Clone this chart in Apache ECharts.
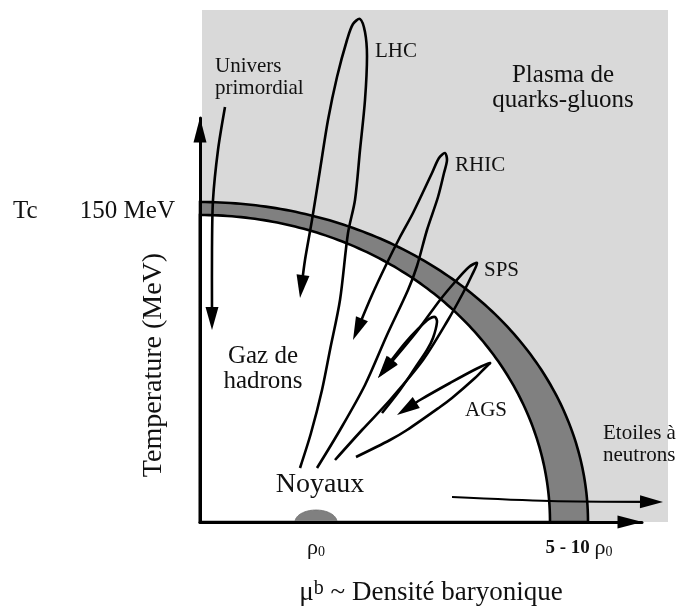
<!DOCTYPE html>
<html><head><meta charset="utf-8">
<script src="https://cdn.jsdelivr.net/npm/echarts@6/dist/echarts.min.js"></script>
<style>html,body{margin:0;padding:0;background:#fff}#c{width:688px;height:611px}</style>
</head><body><div id="c"></div>
<script>
// ---------------- data (schematic units: x = baryon density, y = temperature) ----------------
const axisMax = [442, 404];            // ends of the two axes (arrow tips)
const plasmaExtent = [468, 512];       // shaded quark-gluon plasma region
const crossoverOuter = [388, 320];     // outer radii of the transition band
const crossoverInner = [350, 307];     // inner radii of the transition band
const nucleusAt = [116, 0];            // ρ0 bump on the density axis
const nucleusRadii = [21, 12];

const universPath = [[25,415],[18,372],[13,322],[12,272],[12,192]];
const lhcPath  = [[100,54],[111,89],[122,132],[130,172],[140,222],[148,289],[155,322],[160,372],[165,422],[167,466],[165,490],[160,503],[153,498],[147,482],[137,445],[128,402],[120,352],[112,302],[105,262],[100,224]];
const rhicPath = [[117,54],[140,92],[165,137],[187,187],[208,232],[217,256],[227,292],[238,325],[244,349],[247,362],[245,369],[239,364],[232,349],[213,309],[200,285],[186,257],[172,227],[153,182]];
const spsPath  = [[135,62],[162,92],[190,122],[223,162],[248,202],[263,229],[272,247],[277,259],[269,255],[255,240],[240,222],[218,192],[200,170],[178,144]];
const spsInnerPath = [[182,109],[200,132],[215,154],[227,172],[233,184],[237,200],[235,205],[229,203],[219,194],[205,179],[190,160],[178,144]];
const agsPath  = [[156,65],[190,82],[207,92],[240,115],[252,124],[275,144],[285,154],[290,159],[276,153],[250,139],[220,122],[197,107]];
const neutronStarPath = [[252,25],[350,21],[463,20]];

const xTicks = [{value:116, label:'{r|ρ}{s|0}'}, {value:379, label:'{b|5 - 10 }{r|ρ}{s|0}'}];
const yTicks = [{value:311, label:'150 MeV', name:'Tc'}];

const experimentLabels = [
  {text:'LHC',  x:175, y:471},
  {text:'RHIC', x:255, y:357},
  {text:'SPS',  x:284, y:252},
  {text:'AGS',  x:265, y:112}
];
const regionLabels = [
  {text:'Plasma de\nquarks-gluons', x:363, y:434},
  {text:'Gaz de\nhadrons', x:63, y:153}
];
const sideLabels = [
  {text:'Univers\nprimordial', x:15, y:445},
  {text:'Etoiles à\nneutrons', x:403, y:78}
];
const nucleiLabel = [{text:'Noyaux', x:120, y:37}];

// ---------------- rendering ----------------
const FONT = '"Liberation Serif", "Times New Roman", serif';
const INK = '#111';

function ellipsePts(api, c, r, a0, a1, n, withCenter) {
  const pts = withCenter ? [api.coord(c)] : [];
  for (let i = 0; i <= n; i++) {
    const a = a0 + (a1 - a0) * i / n;
    pts.push(api.coord([c[0] + r[0] * Math.cos(a), c[1] + r[1] * Math.sin(a)]));
  }
  return pts;
}

const background = {
  type: 'custom', coordinateSystem: 'cartesian2d', silent: true, z: 1, clip: false,
  data: [[plasmaExtent[0], plasmaExtent[1]]],
  renderItem(params, api) {
    const tl = api.coord([0, plasmaExtent[1]]);
    const br = api.coord([plasmaExtent[0], 0]);
    return { type: 'group', children: [
      { type: 'rect', shape: { x: tl[0] + 2, y: tl[1], width: br[0] - tl[0] - 2, height: br[1] - tl[1] }, style: { fill: '#d9d9d9' } },
      { type: 'polygon', shape: { points: ellipsePts(api, [0,0], crossoverOuter, 0, Math.PI/2, 120, true) }, style: { fill: '#808080', stroke: '#000', lineWidth: 2.6 } },
      { type: 'polygon', shape: { points: ellipsePts(api, [0,0], crossoverInner, 0, Math.PI/2, 120, true) }, style: { fill: '#fff', stroke: '#000', lineWidth: 2.6 } },
      { type: 'polygon', shape: { points: ellipsePts(api, nucleusAt, nucleusRadii, 0, Math.PI, 40, false) }, style: { fill: '#808080', stroke: '#6e6e6e', lineWidth: 0.8 } }
    ]};
  }
};

function pathSeries(name, pts, arrow, width) {
  return {
    type: 'custom', name, coordinateSystem: 'cartesian2d', silent: true, z: 5, clip: false,
    data: pts,
    renderItem(params, api) {
      if (params.dataIndex !== 0) return;
      const px = pts.map(p => api.coord(p));
      const children = [];
      let linePts = px;
      if (arrow) {
        const tip = px[px.length - 1], prev = px[px.length - 2];
        const dx = tip[0] - prev[0], dy = tip[1] - prev[1];
        const L = Math.hypot(dx, dy), ux = dx / L, uy = dy / L;
        const len = 23, w = 6.5;
        const base = [tip[0] - ux * len, tip[1] - uy * len];
        linePts = px.slice(0, -1).concat([[tip[0] - ux * len * 0.7, tip[1] - uy * len * 0.7]]);
        children.push({ type: 'polygon', z2: 3, shape: { points: [tip, [base[0] - uy * w, base[1] + ux * w], [base[0] + uy * w, base[1] - ux * w]] }, style: { fill: '#000' } });
      }
      children.unshift({ type: 'polyline', shape: { points: linePts, smooth: 0.3 }, style: { stroke: '#000', lineWidth: width || 2.6, fill: null, lineJoin: 'round' } });
      return { type: 'group', children };
    }
  };
}

function textSeries(items, style) {
  return {
    type: 'custom', coordinateSystem: 'cartesian2d', silent: true, z: 8, clip: false,
    data: items.map(d => [d.x, d.y]),
    renderItem(params, api) {
      const p = api.coord([api.value(0), api.value(1)]);
      return { type: 'text', x: p[0], y: p[1], style: Object.assign({ text: items[params.dataIndex].text, fill: INK, fontFamily: FONT, verticalAlign: 'middle' }, style) };
    }
  };
}

const xTickSeries = {
  type: 'custom', coordinateSystem: 'cartesian2d', silent: true, z: 8, clip: false,
  data: xTicks.map(t => [t.value, 0]),
  renderItem(params, api) {
    const p = api.coord([api.value(0), 0]);
    return { type: 'text', x: p[0], y: p[1] + 26, style: {
      text: xTicks[params.dataIndex].label, align: 'center', verticalAlign: 'middle', fill: INK, fontFamily: FONT,
      rich: {
        r: { fontSize: 22, fontFamily: FONT, fill: INK },
        s: { fontSize: 14, fontFamily: FONT, fill: INK, padding: [9, 0, 0, 0] },
        b: { fontSize: 19, fontWeight: 'bold', fontFamily: FONT, fill: INK }
      } } };
  }
};

const yTickSeries = {
  type: 'custom', coordinateSystem: 'cartesian2d', silent: true, z: 8, clip: false,
  data: yTicks.map(t => [0, t.value]),
  renderItem(params, api) {
    const p = api.coord([0, api.value(1)]);
    const t = yTicks[params.dataIndex];
    return { type: 'group', children: [
      { type: 'text', x: p[0] - 25, y: p[1], style: { text: t.label, align: 'right', verticalAlign: 'middle', fill: INK, fontFamily: FONT, fontSize: 25 } },
      { type: 'text', x: p[0] - 187, y: p[1], style: { text: t.name, align: 'left', verticalAlign: 'middle', fill: INK, fontFamily: FONT, fontSize: 25 } }
    ]};
  }
};

const chart = echarts.init(document.getElementById('c'), null, { renderer: 'canvas' });
chart.setOption({
  backgroundColor: '#fff',
  animation: false,
  grid: { left: 200, right: 688 - 642, top: 118, bottom: 611 - 522 },
  xAxis: {
    type: 'value', min: 0, max: axisMax[0], z: 10,
    axisLine: { show: true, lineStyle: { color: '#000', width: 3 }, symbol: ['none', 'triangle'], symbolSize: [13, 25], symbolOffset: [0, -12] },
    axisTick: { show: false }, axisLabel: { show: false }, splitLine: { show: false },
    name: '{m|μ}{sup|b}{t| ~ Densité baryonique}', nameLocation: 'middle', nameGap: 57,
    nameTextStyle: { fontFamily: FONT, fontSize: 27, color: INK, padding: [0, 0, 0, 20],
      rich: { m: { fontSize: 27, fontFamily: FONT, color: INK }, sup: { fontSize: 20, fontFamily: FONT, color: INK, verticalAlign: 'top' }, t: { fontSize: 27, fontFamily: FONT, color: INK } } }
  },
  yAxis: {
    type: 'value', min: 0, max: axisMax[1], z: 10,
    axisLine: { show: true, lineStyle: { color: '#000', width: 3 }, symbol: ['none', 'triangle'], symbolSize: [13, 25], symbolOffset: [0, -12] },
    axisTick: { show: false }, axisLabel: { show: false }, splitLine: { show: false },
    name: 'Temperature (MeV)', nameLocation: 'middle', nameGap: 32, nameRotate: 90,
    nameTextStyle: { fontFamily: FONT, fontSize: 28, color: INK, padding: [0, 90, 0, 0] }
  },
  series: [
    background,
    pathSeries('Univers primordial', universPath, true),
    pathSeries('LHC', lhcPath, true),
    pathSeries('RHIC', rhicPath, true),
    pathSeries('SPS', spsPath, true),
    pathSeries('SPS inner', spsInnerPath, true),
    pathSeries('AGS', agsPath, true),
    pathSeries('Etoiles à neutrons', neutronStarPath, true, 2.2),
    textSeries(experimentLabels, { fontSize: 21, align: 'left' }),
    textSeries(regionLabels, { fontSize: 25, align: 'center', lineHeight: 25 }),
    textSeries(sideLabels, { fontSize: 21, align: 'left', lineHeight: 22 }),
    textSeries(nucleiLabel, { fontSize: 28, align: 'center' }),
    xTickSeries, yTickSeries
  ]
});
</script></body></html>
